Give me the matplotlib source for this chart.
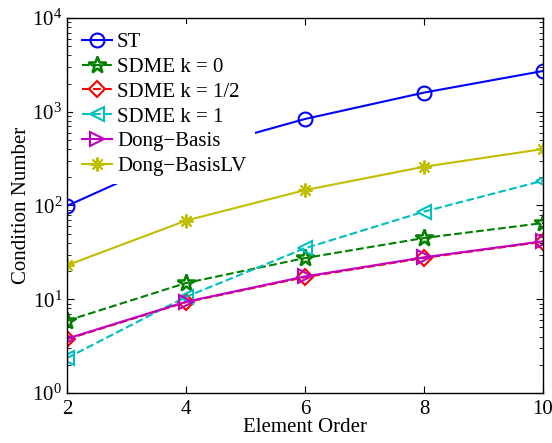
import numpy as np
import matplotlib
matplotlib.use('Agg')
import matplotlib.pyplot as plt

plt.rcParams['font.family'] = ['Liberation Serif', 'DejaVu Serif']
plt.rcParams['mathtext.fontset'] = 'custom'
plt.rcParams['mathtext.rm'] = 'Liberation Serif'
plt.rcParams['mathtext.it'] = 'Liberation Serif:italic'

orders = [2, 4, 6, 8, 10]
st = [99, 370, 837, 1600, 2720]
sdme_k0 = [5.9, 14.9, 27.5, 45, 65]
sdme_k12 = [3.75, 9.3, 17.2, 27.6, 41]
sdme_k1 = [2.36, 10.6, 35, 86, 184]
dong = [3.8, 9.4, 17.5, 28, 41.5]
dong_lv = [23, 69, 146, 259, 400]

ms = 10
lw = 1.5

fig = plt.figure(figsize=(5.52, 4.43), dpi=100)
ax = fig.add_axes([0.1214, 0.1129, 0.8623, 0.8465])

ax.semilogy(orders, st, '-', color=(0, 0, 1), marker='o', mfc='none', mew=1.5,
            ms=ms, lw=lw, label='ST')
ax.semilogy(orders, sdme_k0, '--', color=(0, 0.5, 0), marker='*', mfc='none', mew=1.8,
            ms=ms + 3, lw=lw, label='SDME k = 0')
ax.semilogy(orders, sdme_k12, '--', color=(1, 0, 0), marker='D', mfc='none', mew=1.5,
            ms=ms - 2, lw=lw, label='SDME k = 1/2')
ax.semilogy(orders, sdme_k1, '--', color=(0, 0.75, 0.75), marker='<', mfc='none', mew=1.5,
            ms=ms, lw=lw, label='SDME k = 1')
ax.semilogy(orders, dong, '-', color=(0.75, 0, 0.75), marker='>', mfc='none', mew=1.5,
            ms=ms, lw=lw, label='Dong\u2212Basis')
ax.semilogy(orders, dong_lv, '-', color=(0.75, 0.75, 0), marker=(8, 2, 0), mew=1.5,
            ms=ms, lw=lw, label='Dong\u2212BasisLV')

ax.set_xlim(2, 10)
ax.set_ylim(1, 1e4)
ax.set_xticks(orders)
ax.set_xlabel('Element Order', fontsize=15, labelpad=-1)
ax.set_ylabel('Condition Number', fontsize=15, labelpad=1)
ax.tick_params(axis='both', which='both', direction='in', top=True, right=True,
               labelsize=15)
ax.tick_params(axis='both', which='major', length=5, width=0.8)
ax.tick_params(axis='both', which='minor', length=3, width=0.6)
ax.tick_params(axis='x', pad=5)
for s in ax.spines.values():
    s.set_linewidth(1.0)

leg = ax.legend(loc='upper left', frameon=True, fontsize=15, handlelength=1.45,
                labelspacing=0.25, handletextpad=0.25, borderaxespad=0.3,
                borderpad=0.4, fancybox=False, framealpha=1.0)
leg.get_frame().set_facecolor('white')
leg.get_frame().set_edgecolor('none')

fig.savefig('out.png', dpi=100)
